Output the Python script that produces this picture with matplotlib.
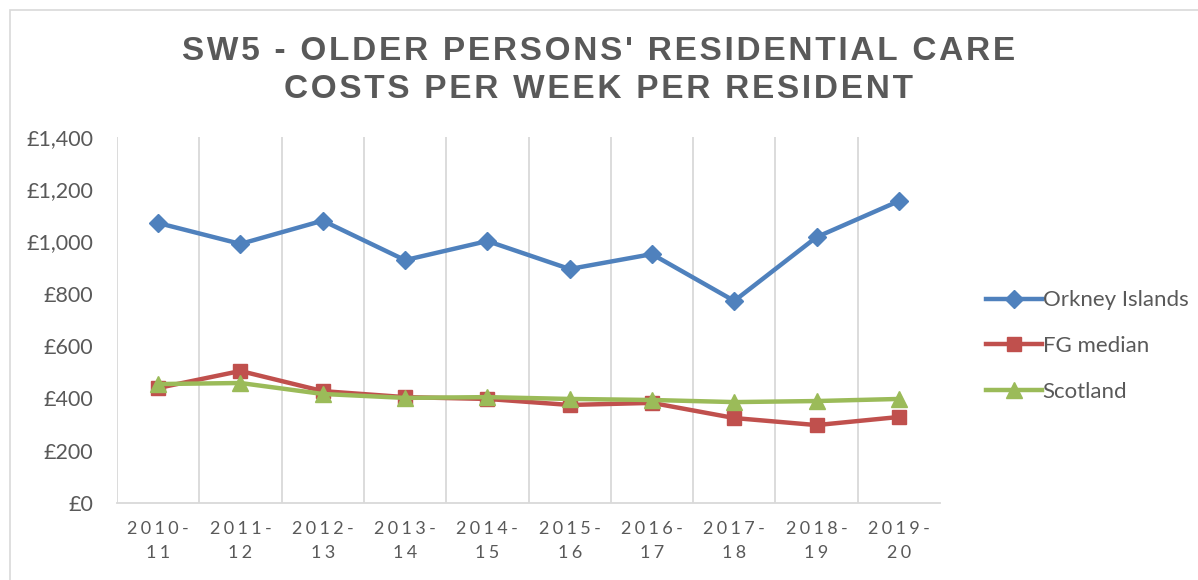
import matplotlib
matplotlib.use("Agg")
import matplotlib.pyplot as plt
from matplotlib.ticker import FuncFormatter, FixedLocator
from matplotlib.patches import Rectangle

years = ["2010-\n11", "2011-\n12", "2012-\n13", "2013-\n14", "2014-\n15",
         "2015-\n16", "2016-\n17", "2017-\n18", "2018-\n19", "2019-\n20"]
orkney = [1071, 991, 1080, 929, 1002, 895, 952, 773, 1017, 1155]
fg_median = [440, 505, 428, 405, 398, 375, 383, 325, 298, 329]
scotland = [455, 459, 417, 402, 405, 398, 394, 386, 390, 398]

TXT = "#595959"
GRID = "#D9D9D9"
HS = "\u200a"

def spaced(s, sep):
    return "\n".join(sep.join(list(line)) for line in s.split("\n"))

fig = plt.figure(figsize=(11.98, 5.8), dpi=100)
fig.patches.append(Rectangle((10/1198, -0.1), 1.2, 1.1 - 10/580, transform=fig.transFigure,
                             fill=False, edgecolor=GRID, linewidth=1.2))
ax = fig.add_axes([117/1198, (580-503)/580, (940-117)/1198, 366/580])

x = list(range(len(years)))
ax.plot(x, orkney, color="#4F81BD", lw=3.2, marker="D", ms=9, label="Orkney Islands", zorder=3)
ax.plot(x, fg_median, color="#C0504D", lw=3.2, marker="s", ms=10, label="FG median", zorder=3)
ax.plot(x, scotland, color="#9BBB59", lw=3.2, marker="^", ms=11, label="Scotland", zorder=4)

ax.set_xlim(-0.5, len(years) - 0.5)
ax.set_ylim(0, 1400)
ax.set_yticks(range(0, 1401, 200))
ax.yaxis.set_major_formatter(FuncFormatter(lambda v, p: "£{:,.0f}".format(v)))
ax.set_xticks(x)
ax.set_xticklabels([spaced(y, HS * 3) for y in years], fontsize=13, color=TXT,
                   family=["Lato", "DejaVu Sans"], linespacing=1.6)
ax.xaxis.set_minor_locator(FixedLocator([i - 0.5 for i in range(len(years))]))
ax.grid(True, which="minor", axis="x", color=GRID, lw=1.3)
ax.grid(False, which="major")
ax.tick_params(axis="x", which="both", length=0, pad=13)
ax.tick_params(axis="y", length=0, pad=17, labelsize=15.5, labelcolor=TXT)
for lab in ax.get_yticklabels():
    lab.set_family(["Lato", "DejaVu Sans"])
for s in ["top", "right", "left"]:
    ax.spines[s].set_visible(False)
ax.spines["bottom"].set_color(GRID)
ax.spines["bottom"].set_linewidth(1.3)

title = "SW5 - OLDER PERSONS' RESIDENTIAL CARE\nCOSTS PER WEEK PER RESIDENT"
fig.text(0.5, 0.938, spaced(title, HS), ha="center", va="top", fontsize=24,
         fontweight="bold", color=TXT, family=["Liberation Sans", "DejaVu Sans"],
         linespacing=1.28)

leg = fig.legend(loc="center left", bbox_to_anchor=(966/1198, (580-346)/580), frameon=False,
                 labelspacing=1.15, handlelength=2.5, handletextpad=0.05,
                 prop={"family": ["Lato", "DejaVu Sans"], "size": 16})
for t in leg.get_texts():
    t.set_color(TXT)

fig.savefig("out.png", dpi=100)
